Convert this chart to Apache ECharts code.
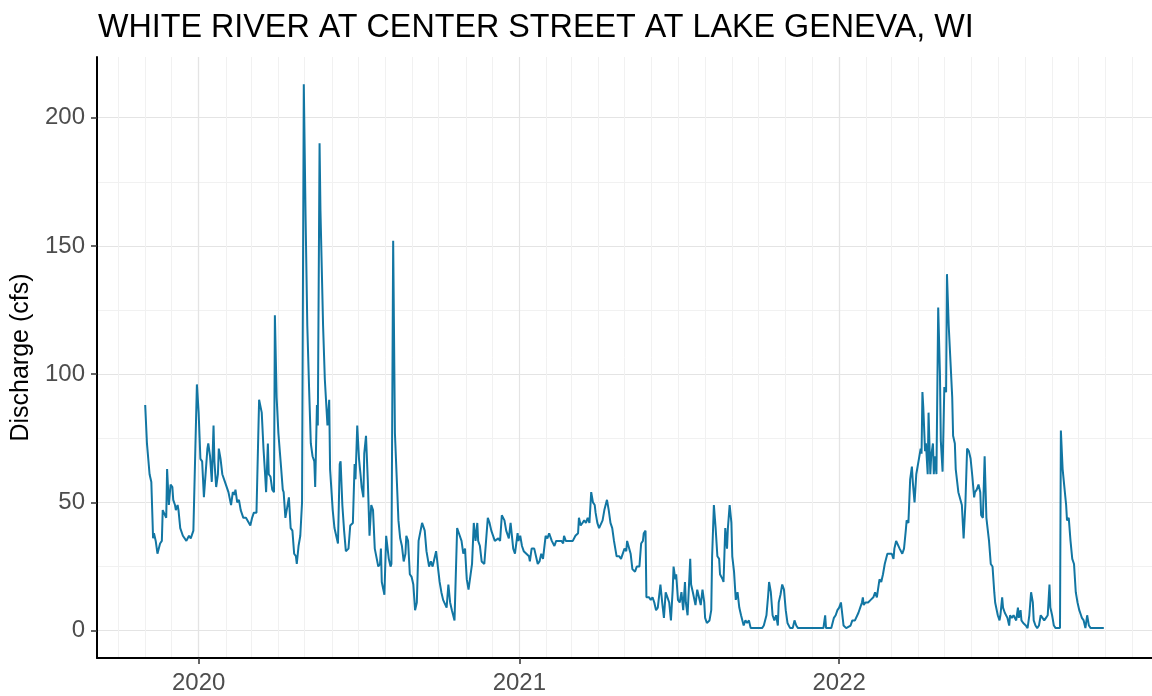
<!DOCTYPE html>
<html><head><meta charset="utf-8">
<script src="https://cdn.jsdelivr.net/npm/echarts@6/dist/echarts.min.js"></script>
<style>html,body{margin:0;padding:0;background:#fff}#chart{width:1152px;height:696px}</style>
</head><body><div id="chart"></div>
<script>
const titleText = 'WHITE RIVER AT CENTER STREET AT LAKE GENEVA, WI';
const yAxisTitle = 'Discharge (cfs)';
// record start: 2019-11-01 ; dayIndex = days since start
const startDate = [2019, 10, 1];
const dayIndex = [
0,2,3,5,7,9,10,12,14,17,19,20,22,24,25,27,29,31,32,34,35,37,38,40,43,47,50,52,55,57,59,61,63,65,67,69,71,72,74,76,78,79,81,83,84,86,88,91,93,95,98,100,102,103,105,107,109,112,115,117,120,122,124,127,
130,133,135,137,138,140,141,143,145,147,148,150,152,155,157,158,160,162,164,166,168,170,172,173,175,177,179,181,183,185,187,189,191,193,194,196,197,199,200,203,205,208,210,211,214,216,220,222,223,225,227,229,232,234,237,239,240,242,244,246,247,249,250,252,254,256,258,260,262,264,266,268,269,
270,273,275,278,280,281,283,285,287,289,291,293,295,297,298,300,302,304,306,308,310,312,314,316,317,319,321,324,326,328,330,332,334,336,338,340,342,344,346,348,350,353,355,356,358,361,363,365,367,369,371,373,375,377,379,380,382,384,387,389,391,393,395,397,399,401,403,405,407,
410,412,415,417,420,422,425,426,428,430,432,435,438,439,441,444,446,448,450,452,454,457,459,461,464,467,469,472,475,477,478,480,482,485,488,491,494,495,497,499,501,503,505,507,509,511,513,514,516,518,520,522,524,527,529,531,533,535,538,
541,543,545,547,549,550,552,554,556,559,561,564,566,568,569,571,572,575,577,579,581,583,585,586,588,590,592,594,596,598,600,602,603,605,606,608,610,612,614,616,617,619,622,623,625,628,630,632,634,636,638,639,641,644,646,647,649,651,653,655,656,659,660,662,664,665,667,669,670,672,674,676,678,
680,683,685,687,689,691,694,700,704,706,709,711,712,714,716,718,720,722,723,725,727,729,731,733,736,739,741,743,745,751,762,774,776,777,783,786,788,790,792,794,796,797,800,802,805,807,810,
814,816,818,819,820,822,825,828,831,833,835,838,840,842,844,847,849,852,854,855,857,859,861,864,866,868,869,871,873,875,876,878,880,882,883,885,886,887,888,890,891,893,894,896,897,899,900,901,903,905,907,908,910,912,914,915,917,919,921,922,924,925,928,930,932,934,936,938,940,942,944,946,947,949,951,
953,954,956,958,960,961,963,965,967,969,970,972,973,975,976,978,979,981,982,984,986,987,989,991,992,994,996,997,999,1000,1002,1005,1007,1009,1011,1013,1014,1016,1018,1020,1022,1024,1026,1028,1030,1032,1033,1035,1037,1039,1041,1044,1045,1047,1049,1051,1052,1054,1056,1058,1060,1062,1064,1066,1068,1069,1071,1073,1075,1077,1079,1083,1087,1091,1094
];
const discharge = [
88,73,73,61,58,36,38,35,30,34,35,47,47,44,63,49,57,56,51,49,47,49,47,40,37,35,37,36,39,39,96,85,67,66,52,52,71,73,68,58,80,66,56,61,71,67,61,58,58,54,49,54,53,55,50,51,47,44,44,44,41,44,46,46,
90,85,71,60,54,73,61,60,55,54,123,91,77,64,55,54,44,44,52,40,39,30,29,26,33,37,50,213,162,119,95,73,68,66,56,88,80,190,164,119,98,80,90,63,47,40,34,65,66,49,39,31,32,41,42,65,59,80,67,60,56,52,69,76,59,37,49,47,32,32,25,26,32,
19,14,37,28,25,26,152,77,60,43,36,33,27,30,37,35,22,21,18,8,11,35,35,42,42,39,31,25,27,25,25,31,25,19,15,12,12,9,18,11,8,4,4,40,38,35,30,32,20,16,16,26,42,35,42,35,33,27,26,35,44,42,39,39,35,35,36,35,45,
43,39,36,42,32,30,38,35,37,33,31,30,29,27,32,32,32,26,27,30,28,37,36,38,35,33,35,35,35,34,37,35,35,35,35,37,38,44,41,42,43,42,44,42,54,50,49,46,42,40,40,43,47,51,47,42,40,35,29,
29,28,28,32,31,35,35,30,24,23,25,25,34,35,38,39,13,13,12,13,11,8,9,12,18,11,5,15,13,11,4,16,25,20,22,12,11,15,8,19,11,6,28,18,15,10,16,13,10,16,11,5,3,4,8,29,49,40,29,28,22,20,19,40,32,40,49,42,29,23,12,15,9,
6,2,4,3,4,1,1,1,1,2,6,14,19,15,6,4,6,2,11,14,18,16,8,3,1,1,4,2,1,1,1,1,6,1,1,5,6,8,9,11,11,2,1,1,2,4,4,
7,9,11,13,10,11,11,12,13,15,13,20,19,22,26,30,30,30,28,32,35,35,32,30,32,39,43,42,59,64,58,50,61,61,67,71,69,93,87,70,73,61,85,61,68,73,61,68,61,126,100,74,62,95,93,139,119,105,91,76,73,63,54,54,49,36,49,71,70,67,60,52,54,55,57,
54,45,44,68,44,41,35,26,25,15,11,11,6,4,6,13,9,7,7,5,2,6,5,6,6,4,9,5,8,4,3,2,1,6,15,11,4,2,1,2,6,5,4,5,6,18,9,6,2,1,1,1,78,63,56,49,43,44,35,28,26,15,11,8,6,5,4,1,6,2,1,1,1,1,1
];
const yMajorTicks = [0, 50, 100, 150, 200];
const yMinorTicks = [25, 75, 125, 175];
const xYearLabels = [2020, 2021, 2022];
const yRange = [-10.65, 223.65];
const xPadDays = 55;

const toTime = d => new Date(startDate[0], startDate[1], startDate[2] + d).getTime();
const seriesData = dayIndex.map((d, i) => [toTime(d), discharge[i]]);
const xMin = toTime(-xPadDays);
const xMax = toTime(dayIndex[dayIndex.length - 1] + xPadDays);
const yearTicks = xYearLabels.map(y => new Date(y, 0, 1).getTime());
const monthTicks = [];
for (let y = 2019; y <= 2023; y++) {
  for (let m = 1; m < 12; m++) {
    const t = new Date(y, m, 1).getTime();
    if (t > xMin && t < xMax) monthTicks.push(t);
  }
}

const FONT = '"Liberation Sans", Arial, sans-serif';
const chart = echarts.init(document.getElementById('chart'), null, {renderer: 'canvas'});
chart.setOption({
  animation: false,
  backgroundColor: '#ffffff',
  title: {
    text: titleText, left: 93, top: 7,
    textStyle: {fontFamily: FONT, fontSize: 32.3, fontWeight: 'normal', color: '#000000'}
  },
  grid: {left: 97, top: 57, width: 1059, height: 601, containLabel: false},
  xAxis: [{
    type: 'time', min: xMin, max: xMax,
    axisLine: {show: true, onZero: false, lineStyle: {color: '#000000', width: 2}},
    axisTick: {show: true, customValues: yearTicks, length: 6, lineStyle: {color: '#333333', width: 1.5}},
    axisLabel: {show: true, customValues: yearTicks, formatter: '{yyyy}', fontFamily: FONT, fontSize: 24, color: '#4d4d4d', margin: 13},
    splitLine: {show: true, lineStyle: {color: '#e4e4e4', width: 1.2}}
  }, {
    type: 'time', min: xMin, max: xMax, gridIndex: 0, position: 'bottom',
    axisLine: {show: false, onZero: false}, axisLabel: {show: false},
    axisTick: {show: false, customValues: monthTicks},
    splitLine: {show: true, lineStyle: {color: '#f1f1f1', width: 1}}
  }],
  yAxis: [{
    type: 'value', min: yRange[0], max: yRange[1],
    name: yAxisTitle, nameLocation: 'middle', nameRotate: 90, nameGap: 54,
    nameTextStyle: {fontFamily: FONT, fontSize: 25, color: '#000000'},
    axisLine: {show: true, onZero: false, lineStyle: {color: '#000000', width: 2}},
    axisTick: {show: true, customValues: yMajorTicks, length: 6, lineStyle: {color: '#333333', width: 1.5}},
    axisLabel: {show: true, customValues: yMajorTicks, fontFamily: FONT, fontSize: 24, color: '#4d4d4d', margin: 12},
    splitLine: {show: true, lineStyle: {color: '#e4e4e4', width: 1.2}}
  }, {
    type: 'value', min: yRange[0], max: yRange[1], gridIndex: 0, position: 'right',
    axisLine: {show: false, onZero: false}, axisLabel: {show: false},
    axisTick: {show: false, customValues: yMinorTicks},
    splitLine: {show: true, lineStyle: {color: '#f1f1f1', width: 1}}
  }],
  series: [{
    type: 'line', xAxisIndex: 0, yAxisIndex: 0,
    data: seriesData, showSymbol: false, symbol: 'none',
    lineStyle: {color: '#1276a3', width: 2},
    z: 5
  }]
});
</script>
</body></html>
